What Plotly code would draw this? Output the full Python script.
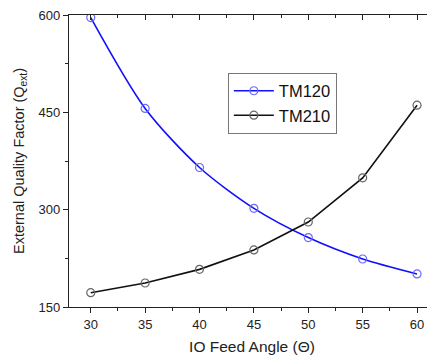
import plotly.graph_objects as go

angles = [30, 35, 40, 45, 50, 55, 60]
tm120 = [596, 456, 365, 302, 257, 224, 201]
tm210 = [172, 187, 208, 238, 281, 349, 461]

FONT = "Liberation Sans, Arial, sans-serif"

fig = go.Figure()
fig.add_trace(go.Scatter(
    x=angles, y=tm120, name="TM120", mode="lines+markers",
    line=dict(color="#1010ff", width=1.6, shape="spline", smoothing=0.8),
    marker=dict(symbol="circle-open", size=8, color="#6a6aff", line=dict(width=1.2)),
))
fig.add_trace(go.Scatter(
    x=angles, y=tm210, name="TM210", mode="lines+markers",
    line=dict(color="#111111", width=1.6),
    marker=dict(symbol="circle-open", size=8, color="#666666", line=dict(width=1.2)),
))

fig.update_layout(
    width=427, height=349,
    margin=dict(l=61, r=0, t=4, b=50),
    paper_bgcolor="white", plot_bgcolor="white",
    font=dict(family=FONT, color="#222"),
    showlegend=True,
    legend=dict(
        x=0.434, y=0.803, xanchor="left", yanchor="top",
        bordercolor="#777", borderwidth=1, bgcolor="white",
        font=dict(size=16.5, family=FONT, color="#111"),
        itemwidth=40, tracegroupgap=0,
    ),
    xaxis=dict(
        range=[28, 61.65], tickvals=[30, 35, 40, 45, 50, 55, 60],
        ticks="outside", ticklen=5, tickwidth=1, tickcolor="#222",
        minor=dict(dtick=2.5, tick0=30, ticks="outside", ticklen=3, tickcolor="#222"),
        showline=True, linecolor="#222", linewidth=1.2,
        showgrid=False, zeroline=False, ticklabeloverflow="allow",
        tickfont=dict(size=13, family=FONT),
        title=dict(text="IO Feed Angle (Θ)", font=dict(size=15.5, family=FONT), standoff=10),
    ),
    xaxis2=dict(
        range=[28, 61.65], overlaying="x", side="top", matches="x",
        tickvals=[30, 35, 40, 45, 50, 55, 60], showticklabels=False,
        ticks="inside", ticklen=5, tickwidth=1, tickcolor="#222",
        minor=dict(dtick=2.5, tick0=30, ticks="inside", ticklen=3, tickcolor="#222"),
        showline=True, linecolor="#222", linewidth=1.2,
        showgrid=False, zeroline=False,
    ),
    yaxis=dict(
        range=[150, 600], tickvals=[150, 300, 450, 600],
        ticks="outside", ticklen=5, tickwidth=1, tickcolor="#222",
        minor=dict(dtick=75, tick0=150, ticks="outside", ticklen=3, tickcolor="#222"),
        showline=True, linecolor="#222", linewidth=1.2,
        showgrid=False, zeroline=False, ticklabeloverflow="allow",
        tickfont=dict(size=13, family=FONT),
        title=dict(text="External Quality Factor (Q<sub>ext</sub>)", font=dict(size=14.5, family=FONT), standoff=10),
    ),
)
# invisible trace to activate top axis
fig.add_trace(go.Scatter(x=[30], y=[150], xaxis="x2", mode="markers",
                         marker=dict(opacity=0), showlegend=False, hoverinfo="skip"))

fig.write_html("out.html")
